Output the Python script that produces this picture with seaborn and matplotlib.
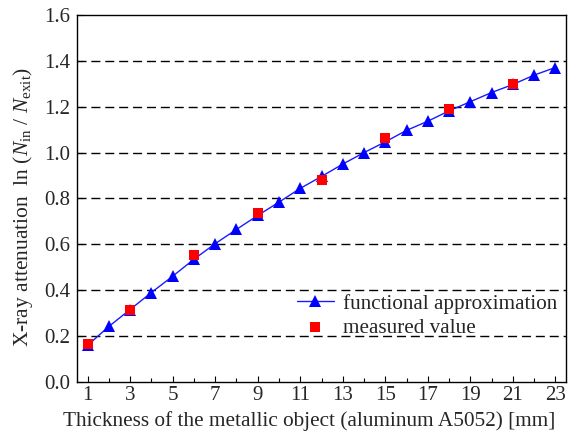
import matplotlib
matplotlib.use("Agg")
import matplotlib.pyplot as plt
from matplotlib.ticker import MultipleLocator, FormatStrFormatter
import seaborn as sns
import pandas as pd

# Functional approximation of the attenuation curve
thickness_fit = list(range(1, 24))
attenuation_fit = [0.160, 0.242, 0.316, 0.390, 0.461, 0.535, 0.603, 0.665, 0.726,
                   0.784, 0.844, 0.896, 0.950, 1.000, 1.047, 1.097, 1.137, 1.182,
                   1.222, 1.262, 1.297, 1.338, 1.371]

# Measured attenuation values
thickness_meas = [1, 3, 6, 9, 12, 15, 18, 21]
attenuation_meas = [0.166, 0.316, 0.553, 0.735, 0.880, 1.063, 1.189, 1.297]

x_tick_labels = [str(v) for v in range(1, 24, 2)]

sns.set_theme(style="ticks")
plt.rcParams["font.family"] = ["Liberation Serif", "DejaVu Serif"]
plt.rcParams["mathtext.fontset"] = "custom"
plt.rcParams["mathtext.rm"] = "Liberation Serif"
plt.rcParams["mathtext.it"] = "Liberation Serif:italic"

fit_df = pd.DataFrame({"t": thickness_fit, "a": attenuation_fit})
meas_df = pd.DataFrame({"t": thickness_meas, "a": attenuation_meas})

fig = plt.figure(figsize=(5.77, 4.37), dpi=100)
ax = fig.add_axes([0.1334, 0.1259, 0.8476, 0.8398])

for yv in [0.2, 0.4, 0.6, 0.8, 1.0, 1.2, 1.4]:
    ax.axhline(yv, color="black", lw=1.0, ls=(0, (6.5, 3.5)), zorder=0)

sns.lineplot(data=fit_df, x="t", y="a", ax=ax, color="#1a1aff", lw=1.0,
             marker="^", markersize=8, markeredgewidth=0, markerfacecolor="#0000ff",
             label="functional approximation", zorder=2)
sns.scatterplot(data=meas_df, x="t", y="a", ax=ax, color="#ff0000", marker="s",
                s=60, linewidth=0, label="measured value", zorder=3)

ax.set_xlim(0.5, 23.5)
ax.set_ylim(0, 1.6)
ax.set_xticks(range(1, 24, 2))
ax.set_xticklabels(x_tick_labels)
ax.xaxis.set_minor_locator(MultipleLocator(1))
ax.yaxis.set_major_locator(MultipleLocator(0.2))
ax.yaxis.set_major_formatter(FormatStrFormatter("%.1f"))
ax.tick_params(axis="both", which="both", direction="in", labelsize=15,
               color="black", width=0.8)
ax.tick_params(which="major", length=4)
ax.tick_params(which="minor", length=3)
ax.tick_params(axis="x", pad=3)
ax.tick_params(axis="y", pad=5)

for sp in ax.spines.values():
    sp.set_color("black")
    sp.set_linewidth(1.0)

ax.set_xlabel("Thickness of the metallic object (aluminum A5052) [mm]", fontsize=15.3)
ax.set_ylabel(r"X-ray attenuation  ln ($\mathit{N}_{\mathrm{in}}$ / $\mathit{N}_{\mathrm{exit}}$)",
              fontsize=15.5)
ax.xaxis.set_label_coords(0.474, -0.078)
ax.yaxis.set_label_coords(-0.086, 0.4755)

ax.legend(loc="lower right", bbox_to_anchor=(1.0, 0.098), borderaxespad=0,
          frameon=False, fontsize=15.2, handlelength=1.75, handletextpad=0.45,
          labelspacing=0.2, borderpad=0.4)

fig.savefig("out.png", dpi=100)
